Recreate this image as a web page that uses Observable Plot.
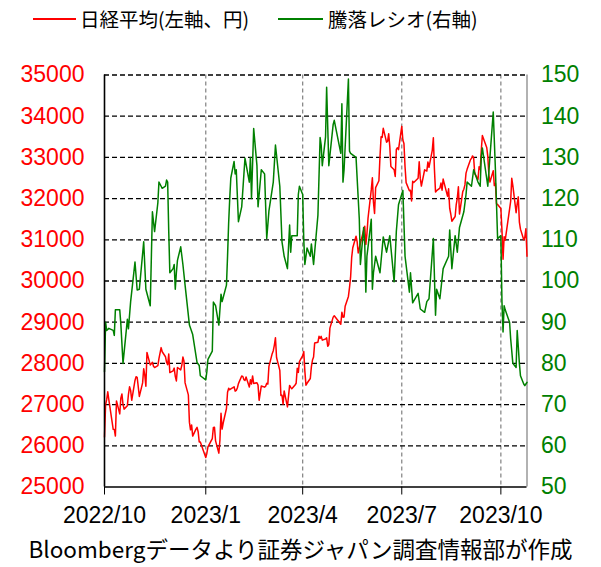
<!DOCTYPE html>
<html><head><meta charset="utf-8">
<script src="https://cdn.jsdelivr.net/npm/d3@7"></script>
<script src="https://cdn.jsdelivr.net/npm/@observablehq/plot@0.6"></script>
<style>
html,body{margin:0;padding:0;background:#fff;}
body{width:601px;height:567px;overflow:hidden;position:relative;font-family:"Noto Sans CJK JP",sans-serif;}
#legend{position:absolute;left:0;top:0;width:601px;height:40px;}
.lg-line{position:absolute;height:2px;top:18px;}
.lg-text{position:absolute;top:5px;font-size:19.5px;line-height:28px;color:#000;white-space:nowrap;}
#chart{position:absolute;left:0;top:40px;}
#caption{position:absolute;left:0;top:533px;width:601px;text-align:center;font-size:22.5px;line-height:30px;color:#000;white-space:nowrap;}
</style></head><body>
<div id="legend"></div>
<div id="chart"></div>
<div id="caption"></div>
<script>
// ---- data ----
const seriesNames = ["日経平均(左軸、円)", "騰落レシオ(右軸)"];
const seriesColors = ["#ff0000", "#008000"];
const captionText = "Bloombergデータより証券ジャパン調査情報部が作成";

const nikkeiDates = [
"2022-10-03","2022-10-04","2022-10-05","2022-10-06","2022-10-07","2022-10-11","2022-10-12","2022-10-13","2022-10-14",
"2022-10-17","2022-10-18","2022-10-19","2022-10-20","2022-10-21","2022-10-24","2022-10-25","2022-10-26","2022-10-27","2022-10-28",
"2022-10-31","2022-11-01","2022-11-02","2022-11-04","2022-11-07","2022-11-08","2022-11-09","2022-11-10","2022-11-11",
"2022-11-14","2022-11-15","2022-11-16","2022-11-17","2022-11-18","2022-11-21","2022-11-22","2022-11-24","2022-11-25",
"2022-11-28","2022-11-29","2022-11-30","2022-12-01","2022-12-02","2022-12-05","2022-12-06","2022-12-07","2022-12-08","2022-12-09",
"2022-12-12","2022-12-13","2022-12-14","2022-12-15","2022-12-16","2022-12-19","2022-12-20","2022-12-21","2022-12-22","2022-12-23",
"2022-12-26","2022-12-27","2022-12-28","2022-12-29","2022-12-30",
"2023-01-04","2023-01-05","2023-01-06","2023-01-10","2023-01-11","2023-01-12","2023-01-13",
"2023-01-16","2023-01-17","2023-01-18","2023-01-19","2023-01-20","2023-01-23","2023-01-24","2023-01-25","2023-01-26","2023-01-27",
"2023-01-30","2023-01-31","2023-02-01","2023-02-02","2023-02-03","2023-02-06","2023-02-07","2023-02-08","2023-02-09","2023-02-10",
"2023-02-13","2023-02-14","2023-02-15","2023-02-16","2023-02-17","2023-02-20","2023-02-21","2023-02-22","2023-02-24",
"2023-02-27","2023-02-28","2023-03-01","2023-03-02","2023-03-03","2023-03-06","2023-03-07","2023-03-08","2023-03-09","2023-03-10",
"2023-03-13","2023-03-14","2023-03-15","2023-03-16","2023-03-17","2023-03-20","2023-03-22","2023-03-23","2023-03-24",
"2023-03-27","2023-03-28","2023-03-29","2023-03-30","2023-03-31","2023-04-03","2023-04-04","2023-04-05","2023-04-06","2023-04-07",
"2023-04-10","2023-04-11","2023-04-12","2023-04-13","2023-04-14","2023-04-17","2023-04-18","2023-04-19","2023-04-20","2023-04-21",
"2023-04-24","2023-04-25","2023-04-26","2023-04-27","2023-04-28","2023-05-01","2023-05-02","2023-05-08","2023-05-09","2023-05-10",
"2023-05-11","2023-05-12","2023-05-15","2023-05-16","2023-05-17","2023-05-18","2023-05-19","2023-05-22","2023-05-23","2023-05-24",
"2023-05-25","2023-05-26","2023-05-29","2023-05-30","2023-05-31","2023-06-01","2023-06-02","2023-06-05","2023-06-06","2023-06-07",
"2023-06-08","2023-06-09","2023-06-12","2023-06-13","2023-06-14","2023-06-15","2023-06-16","2023-06-19","2023-06-20","2023-06-21",
"2023-06-22","2023-06-23","2023-06-26","2023-06-27","2023-06-28","2023-06-29","2023-06-30","2023-07-03","2023-07-04","2023-07-05",
"2023-07-06","2023-07-07","2023-07-10","2023-07-11","2023-07-12","2023-07-13","2023-07-14","2023-07-18","2023-07-19","2023-07-20",
"2023-07-21","2023-07-24","2023-07-25","2023-07-26","2023-07-27","2023-07-28","2023-07-31","2023-08-01","2023-08-02","2023-08-03",
"2023-08-04","2023-08-07","2023-08-08","2023-08-09","2023-08-10","2023-08-14","2023-08-15","2023-08-16","2023-08-17","2023-08-18",
"2023-08-21","2023-08-22","2023-08-23","2023-08-24","2023-08-25","2023-08-28","2023-08-29","2023-08-30","2023-08-31","2023-09-01",
"2023-09-04","2023-09-05","2023-09-06","2023-09-07","2023-09-08","2023-09-11","2023-09-12","2023-09-13","2023-09-14","2023-09-15",
"2023-09-19","2023-09-20","2023-09-21","2023-09-22","2023-09-25","2023-09-26","2023-09-27","2023-09-28","2023-09-29",
"2023-10-02","2023-10-03","2023-10-04","2023-10-05","2023-10-06","2023-10-10","2023-10-11","2023-10-12","2023-10-13",
"2023-10-16","2023-10-17","2023-10-18","2023-10-19","2023-10-20","2023-10-23","2023-10-24","2023-10-25","2023-10-26"];
const nikkeiValues = [
26215,26992,27120,27311,27116,26401,26397,26237,27090,
26775,27156,27257,27006,26890,26974,27250,27431,27345,27105,
27587,27678,27663,27199,27527,27872,27716,27446,28263,
27963,27990,28028,27930,27899,27944,28115,28383,28283,
28162,28027,27968,28226,27777,27820,27885,27686,27574,27901,
27842,27954,28156,28051,27527,27237,26568,26387,26507,26235,
26405,26447,26340,26093,26094,
25717,25820,25974,26175,26446,26449,26120,
25822,26138,26791,26405,26553,26906,27299,27395,27362,27382,
27433,27327,27346,27402,27509,27693,27685,27606,27584,27670,
27427,27602,27501,27696,27513,27531,27473,27104,27453,
27423,27445,27516,27498,27927,28237,28309,28444,28623,28143,
27832,27222,27229,27010,27333,26945,27466,27419,27385,
27476,27518,27883,27782,28041,28188,28287,27813,27472,27518,
27633,27923,28082,28156,28493,28514,28658,28606,28657,28564,
28593,28620,28416,28457,28856,29123,29157,28949,29242,29122,
29126,29388,29626,29842,30093,30573,30808,31086,30957,30682,
30801,30916,31233,31328,30887,31148,31524,32217,32506,31913,
31641,32265,32434,33018,33502,33485,33706,33370,33388,33575,
33264,32781,32698,32538,33193,33234,33189,33753,33422,33338,
32773,32388,32189,32203,31943,32419,32391,32493,32896,32490,
32304,32700,32682,32668,32891,32759,33172,33476,32707,32159,
32192,32254,32377,32204,32473,32059,32238,31766,31626,31450,
31565,31856,32010,32287,31624,32169,32226,32333,32619,32710,
32939,32975,33036,32991,32606,32467,32776,32706,33168,33533,
33242,33023,32571,32402,32678,32315,32371,31872,31857,
31759,31237,30526,31075,30994,31746,31936,32494,32315,
31659,31880,32042,31430,31259,30999,31062,31269,30601];

const ratioDates = [
"2022-10-03","2022-10-04","2022-10-05","2022-10-07","2022-10-11","2022-10-12","2022-10-13","2022-10-17","2022-10-18","2022-10-20",
"2022-10-24","2022-10-25","2022-10-27","2022-10-31","2022-11-02","2022-11-04","2022-11-08","2022-11-10","2022-11-14","2022-11-16",
"2022-11-18","2022-11-21","2022-11-22","2022-11-24","2022-11-25","2022-11-28","2022-11-29","2022-11-30","2022-12-01","2022-12-02",
"2022-12-05","2022-12-06","2022-12-07","2022-12-08","2022-12-09","2022-12-12","2022-12-14","2022-12-16","2022-12-20","2022-12-23",
"2022-12-27","2022-12-29","2022-12-30","2023-01-04","2023-01-05","2023-01-06","2023-01-10","2023-01-11","2023-01-13","2023-01-16",
"2023-01-18","2023-01-19","2023-01-20","2023-01-23","2023-01-24","2023-01-25","2023-01-26","2023-01-27","2023-01-30","2023-01-31",
"2023-02-01","2023-02-03","2023-02-06","2023-02-09","2023-02-13","2023-02-14","2023-02-15","2023-02-17","2023-02-20","2023-02-21",
"2023-02-24","2023-02-27","2023-03-01","2023-03-03","2023-03-07","2023-03-09","2023-03-13","2023-03-15","2023-03-17","2023-03-20",
"2023-03-22","2023-03-23","2023-03-24","2023-03-29","2023-03-30","2023-03-31","2023-04-03","2023-04-04","2023-04-05","2023-04-07",
"2023-04-10","2023-04-11","2023-04-13","2023-04-17","2023-04-19","2023-04-20","2023-04-21","2023-04-24","2023-04-25","2023-04-27",
"2023-05-01","2023-05-02","2023-05-08","2023-05-09","2023-05-10","2023-05-11","2023-05-15","2023-05-16","2023-05-17","2023-05-22",
"2023-05-25","2023-05-26","2023-05-29","2023-05-30","2023-05-31","2023-06-01","2023-06-05","2023-06-06","2023-06-07","2023-06-09",
"2023-06-13","2023-06-16","2023-06-19","2023-06-22","2023-06-26","2023-06-28","2023-06-30","2023-07-04","2023-07-06","2023-07-10",
"2023-07-11","2023-07-13","2023-07-18","2023-07-20","2023-07-24","2023-07-26","2023-07-28","2023-08-01","2023-08-03","2023-08-04",
"2023-08-07","2023-08-10","2023-08-15","2023-08-16","2023-08-18","2023-08-21","2023-08-23","2023-08-25","2023-08-29","2023-08-31",
"2023-09-01","2023-09-05","2023-09-07","2023-09-11","2023-09-13","2023-09-14","2023-09-15","2023-09-20","2023-09-25","2023-09-27",
"2023-09-29","2023-10-02","2023-10-03","2023-10-04","2023-10-05","2023-10-06","2023-10-10","2023-10-11","2023-10-12","2023-10-13",
"2023-10-16","2023-10-17","2023-10-18","2023-10-19","2023-10-20","2023-10-23","2023-10-24","2023-10-25","2023-10-26"];
const ratioValues = [
78,90,88,88.5,88,86.8,93,93,89.6,80,
90.7,88.4,95,104.6,97.8,98,109.5,98,94,116.8,
112,119,124,123,122.5,123,124.5,124,112,102,
103,104,98,102,105,108.3,104,99,89.3,87,
80.2,79.5,77,76,78,81,83,94.9,94,89.3,
96.8,95,96,99,106,114,120,125,129,126,
127,114.4,118,129.8,124,130,120,137,128,118,
127,126,110.3,117,124,133,123,109.5,106,103,
113.6,107,111,111,121,123,121,110,104,108,
106,109,104,116,134.8,133,128,135,147,128,
138,139,131,143,124,127,149,131.5,131,130,
115,104,113,109,97.3,106,115,98,102,106,
102,110.7,107,111,99.8,112,118.5,122,106,97.3,
102,94.7,97,93.2,92.4,95,95.7,110.3,91.7,98,
95.7,103,106,112.4,103,111,107,113,116.8,121,
124,123,127,124,123,130,132.3,123,141,127,
110.3,111,95,87.6,94,93,90,86,83,80,
79,88,84,80,77,75,74.6,75,75.4];

const leftTicks = [25000,26000,27000,28000,29000,30000,31000,32000,33000,34000,35000];
const rightTicks = [50,60,70,80,90,100,110,120,130,140,150];
const xTickDates = ["2022-10-03","2023-01-04","2023-04-03","2023-07-03","2023-10-02"];
const xTickLabels = ["2022/10","2023/1","2023/4","2023/7","2023/10"];
const xDomain = ["2022-10-03","2023-10-26"];

// ---- build ----
const parse = s => new Date(s + "T00:00:00Z");
const nikkei = nikkeiDates.map((d,i) => ({date: parse(d), value: nikkeiValues[i]}));
const ratio = ratioDates.map((d,i) => ({date: parse(d), value: ratioValues[i]}));
// right axis (50..150) mapped onto left axis (25000..35000)
const r0 = rightTicks[0], r1 = rightTicks[rightTicks.length-1];
const l0 = leftTicks[0], l1 = leftTicks[leftTicks.length-1];
const toLeft = v => l0 + (v - r0) * (l1 - l0) / (r1 - r0);
const toRight = v => r0 + (v - l0) * (r1 - r0) / (l1 - l0);
const xTicks = xTickDates.map(parse);
const xLabel = new Map(xTicks.map((d,i) => [+d, xTickLabels[i]]));
const rightLabel = new Map(leftTicks.map((d,i) => [d, String(rightTicks[i])]));
const dom = xDomain.map(parse);

const numFont = "'Liberation Sans', Arial, sans-serif";
const chart = Plot.plot({
  width: 601, height: 494,
  marginLeft: 104, marginRight: 74.5, marginTop: 34.5, marginBottom: 47.5,
  style: {fontFamily: numFont, fontSize: "23px", background: "#fff", overflow: "visible"},
  x: {type: "utc", domain: dom},
  y: {domain: [l0, l1]},
  marks: [
    Plot.ruleX(xTicks.slice(1), {stroke: "#808080", strokeWidth: 1.2, strokeDasharray: "4,3"}),
    Plot.ruleY(leftTicks.slice(1), {stroke: "#000", strokeWidth: 1.3, strokeDasharray: "5,3"}),
    Plot.ruleX([dom[1]], {stroke: "#999", strokeWidth: 1.5}),
    Plot.line(nikkei, {x: "date", y: "value", stroke: seriesColors[0], strokeWidth: 1.5}),
    Plot.line(ratio, {x: "date", y: d => toLeft(d.value), stroke: seriesColors[1], strokeWidth: 1.5}),
    Plot.ruleX([dom[0]], {stroke: "#000", strokeWidth: 1.6}),
    Plot.ruleY([l0], {stroke: "#000", strokeWidth: 1.6}),
    Plot.axisY(leftTicks, {anchor: "left", tickSize: 0, tickPadding: 20, color: seriesColors[0], label: null, fontSize: 23, tickFormat: d => String(d)}),
    Plot.axisY(leftTicks, {anchor: "right", tickSize: 0, tickPadding: 14, color: seriesColors[1], label: null, fontSize: 23, tickFormat: d => rightLabel.get(d)}),
    Plot.axisX(xTicks, {anchor: "bottom", tickSize: 8, tickPadding: 12, color: "#000", label: null, fontSize: 23, tickFormat: d => xLabel.get(+d)})
  ]
});
document.getElementById("chart").appendChild(chart);

// legend
const lg = document.getElementById("legend");
const lgPos = [{line: 33, len: 43, text: 80}, {line: 278, len: 45, text: 328}];
seriesNames.forEach((name, i) => {
  const ln = document.createElement("div");
  ln.className = "lg-line";
  ln.style.left = lgPos[i].line + "px"; ln.style.width = lgPos[i].len + "px";
  ln.style.background = seriesColors[i];
  lg.appendChild(ln);
  const tx = document.createElement("div");
  tx.className = "lg-text"; tx.style.left = lgPos[i].text + "px";
  tx.textContent = name;
  lg.appendChild(tx);
});
document.getElementById("caption").textContent = captionText;
</script>
</body></html>
